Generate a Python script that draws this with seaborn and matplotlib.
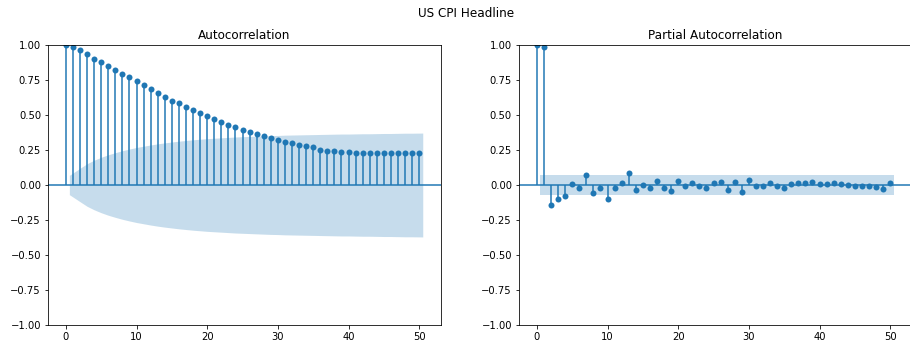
import numpy as np
import matplotlib
matplotlib.use("Agg")
import matplotlib.pyplot as plt
import seaborn as sns

# Lags shown on both panels
lags = list(range(51))

# Sample autocorrelation, lags 0..50
acf_values = [
    1.000,
    0.983, 0.962, 0.933, 0.902, 0.876, 0.852, 0.821, 0.795, 0.771, 0.740,
    0.717, 0.683, 0.655, 0.631, 0.602, 0.583, 0.560, 0.536, 0.512, 0.493,
    0.469, 0.448, 0.431, 0.411, 0.396, 0.380, 0.365, 0.350, 0.333, 0.319,
    0.307, 0.300, 0.286, 0.276, 0.269, 0.252, 0.245, 0.240, 0.233, 0.233,
    0.226, 0.226, 0.226, 0.226, 0.226, 0.226, 0.226, 0.226, 0.226, 0.226,
]

# 95% confidence half-width for the autocorrelation, lags 1..50
acf_band = [
    0.069, 0.119, 0.152, 0.177, 0.198, 0.216, 0.231, 0.245, 0.257, 0.268,
    0.277, 0.286, 0.294, 0.301, 0.307, 0.313, 0.318, 0.323, 0.327, 0.331,
    0.334, 0.337, 0.340, 0.343, 0.345, 0.347, 0.349, 0.351, 0.353, 0.354,
    0.356, 0.357, 0.358, 0.359, 0.360, 0.361, 0.362, 0.363, 0.364, 0.364,
    0.365, 0.366, 0.366, 0.367, 0.368, 0.368, 0.369, 0.370, 0.370, 0.371,
]

# Sample partial autocorrelation, lags 0..50
pacf_values = [
    1.000,
    0.983, -0.143, -0.098, -0.081, 0.005, -0.024, 0.069, -0.055, -0.024, -0.098,
    -0.024, 0.012, 0.086, -0.033, 0.002, -0.024, 0.026, -0.019, -0.040, 0.026,
    -0.010, 0.016, -0.004, -0.018, 0.017, 0.024, -0.033, 0.024, -0.052, 0.033,
    -0.005, -0.005, 0.017, -0.005, -0.019, 0.010, 0.017, 0.017, 0.024, 0.010,
    0.010, 0.017, 0.010, 0.002, -0.005, -0.005, -0.005, -0.014, -0.029, 0.012,
]

# 95% confidence half-width for the partial autocorrelation (constant)
pacf_halfwidth = 0.07

suptitle_text = "US CPI Headline"
panel_titles = ["Autocorrelation", "Partial Autocorrelation"]

BLUE = "#1f77b4"
W, H, DPI = 910, 341, 72


def corr_panel(ax, values, band, title):
    x = np.asarray(lags, dtype=float)
    v = np.asarray(values, dtype=float)
    b = np.broadcast_to(np.asarray(band, dtype=float), (len(x) - 1,))

    # stems, zero line and markers
    ax.vlines(x, 0, v, color=BLUE, linewidth=1.5)
    ax.axhline(0, color=BLUE, linewidth=1.5)
    sns.scatterplot(x=x, y=v, ax=ax, color=BLUE, s=36, linewidth=0, zorder=2)

    # confidence band, skipping lag 0 and padded half a lag at both ends
    bx = x[1:].copy()
    bx[0] -= 0.5
    bx[-1] += 0.5
    ax.fill_between(bx, -b, b, color=BLUE, alpha=0.25, linewidth=0)

    ax.set_xlim(-2.525, 53.025)
    ax.set_ylim(-1, 1)
    ax.set_yticks(np.arange(-1, 1.001, 0.25))
    ax.set_xticks(range(0, 51, 10))
    ax.set_xlabel("")
    ax.set_ylabel("")
    ax.set_title(title, fontsize=12)
    ax.tick_params(labelsize=10)


fig = plt.figure(figsize=(W / DPI, H / DPI), dpi=DPI)
ax_w = 392.6 / W
ax_b = 16 / H
ax_h = 280 / H
ax1 = fig.add_axes([48 / W, ax_b, ax_w, ax_h])
ax2 = fig.add_axes([519 / W, ax_b, ax_w, ax_h])

corr_panel(ax1, acf_values, acf_band, panel_titles[0])
corr_panel(ax2, pacf_values, pacf_halfwidth, panel_titles[1])

fig.text(466 / W, 1 - 13.5 / H, suptitle_text, ha="center", va="center", fontsize=12)

fig.savefig("out.png", dpi=DPI)
